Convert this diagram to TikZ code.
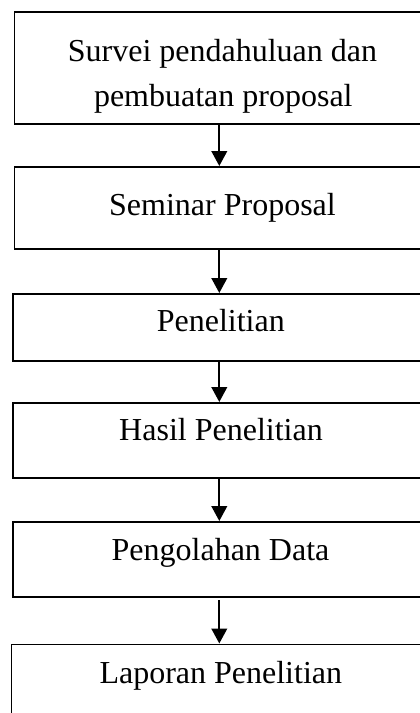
\documentclass[tikz,border=0pt]{standalone}
\usepackage{fontspec}
\setmainfont{Liberation Serif}
\usetikzlibrary{arrows.meta}
\begin{document}
\begin{tikzpicture}[x=1pt,y=-1pt,
  box/.style={draw=black,line width=1.7pt,rectangle,inner sep=0pt,anchor=north west},
  lbl/.style={anchor=base,inner sep=0pt,font=\fontsize{32}{38}\selectfont},
  arr/.style={line width=2.2pt,-{Triangle[width=15.6pt,length=15pt]}}]
\useasboundingbox (0,0) rectangle (420,713);
\clip (0,0) rectangle (420,713);
\node[box,minimum width=418pt,minimum height=112pt] (b1) at (13.5,11) {};
\node[box,minimum width=418pt,minimum height=82pt] (b2) at (13.5,166) {};
\node[box,minimum width=420pt,minimum height=67pt] (b3) at (12,293) {};
\node[box,minimum width=420pt,minimum height=75pt] (b4) at (12,402) {};
\node[box,minimum width=420pt,minimum height=75pt] (b5) at (12,521) {};
\node[box,minimum width=421pt,minimum height=100pt] (b6) at (10.5,643.5) {};
\node[lbl] (t1a) at (222.5,61.7) {Survei pendahuluan dan};
\node[lbl] (t1b) at (223.3,106.7) {pembuatan proposal};
\node[lbl] (t2) at (222.5,215) {Seminar Proposal};
\node[lbl] (t3) at (220.8,331.7) {Penelitian};
\node[lbl] (t4) at (221,440.7) {Hasil Penelitian};
\node[lbl] (t5) at (220.5,560) {Pengolahan Data};
\node[lbl] (t6) at (220.8,683.3) {Laporan Penelitian};
\coordinate (ax) at (219.3,0);
\coordinate (s5) at (219.3,600);
\draw[arr] (b1.south -| ax) -- (b2.north -| ax);
\draw[arr] (b2.south -| ax) -- (b3.north -| ax);
\draw[arr] (b3.south -| ax) -- (b4.north -| ax);
\draw[arr] (b4.south -| ax) -- (b5.north -| ax);
\draw[arr] (s5) -- (b6.north -| ax);
\end{tikzpicture}
\end{document}
